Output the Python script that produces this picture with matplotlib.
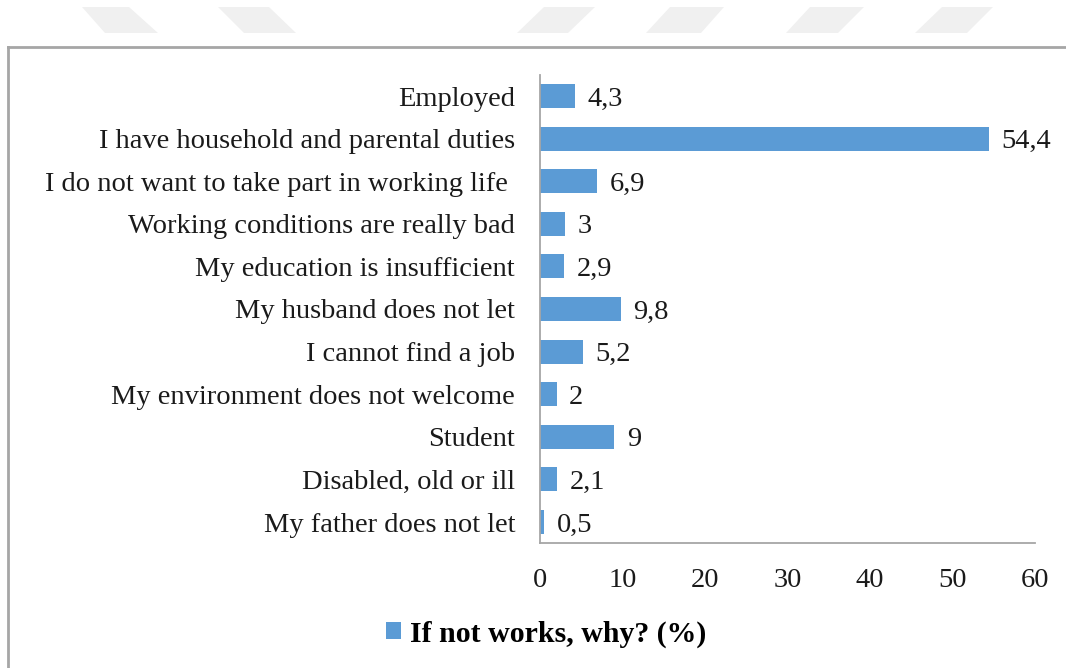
import matplotlib.pyplot as plt
from matplotlib.patches import Polygon
from matplotlib.lines import Line2D

categorias = [
    'Employed',
    'I have household and parental duties',
    'I do not want to take part in working life ',
    'Working conditions are really bad',
    'My education is insufficient',
    'My husband does not let',
    'I cannot find a job',
    'My environment does not welcome',
    'Student',
    'Disabled, old or ill',
    'My father does not let',
]
valores = [4.3, 54.4, 6.9, 3, 2.9, 9.8, 5.2, 2, 9, 2.1, 0.5]
etiquetas = ['4,3', '54,4', '6,9', '3', '2,9', '9,8', '5,2', '2', '9', '2,1', '0,5']
serie = 'If not works, why? (%)'
xticks = [0, 10, 20, 30, 40, 50, 60]

plt.rcParams['font.family'] = ['Liberation Serif', 'DejaVu Serif']

W, H = 1066, 668
fig = plt.figure(figsize=(W / 100, H / 100), dpi=100)

# Marca de agua gris de la pagina (arriba)
formas = [
    [(82, 7), (129, 7), (158, 33), (105, 33)],
    [(218, 7), (269, 7), (296, 33), (244, 33)],
    [(544, 7), (595, 7), (568, 33), (517, 33)],
    [(670, 7), (724, 7), (701, 33), (646, 33)],
    [(810, 7), (864, 7), (838, 33), (786, 33)],
    [(942, 7), (993, 7), (967, 33), (915, 33)],
]
for f in formas:
    pts = [(x / W, 1 - y / H) for x, y in f]
    fig.patches.append(Polygon(pts, closed=True, transform=fig.transFigure,
                               facecolor='#F0F0F0', edgecolor='none'))

# Borde del grafico
fig.lines.append(Line2D([8 / W, 1], [1 - 47 / H, 1 - 47 / H], transform=fig.transFigure,
                        color='#A6A6A6', lw=2))
fig.lines.append(Line2D([8 / W, 8 / W], [0, 1 - 47 / H], transform=fig.transFigure,
                        color='#A6A6A6', lw=2))

ax = fig.add_axes([540 / W, 1 - 543.3 / H, (1035 - 540) / W, (543.3 - 74.7) / H])

y = list(range(len(categorias)))
barras = ax.barh(y, valores, height=0.56, color='#5B9BD5', label=serie)
ax.set_ylim(len(categorias) - 0.5, -0.5)
ax.set_xlim(0, 60)
ax.set_yticks(y)
ax.set_yticklabels(categorias)
ax.set_xticks(xticks)
ax.tick_params(axis='y', length=0, pad=18, labelsize=20.5, labelcolor='#1a1a1a')
ax.tick_params(axis='x', length=0, pad=18, labelsize=20.5, labelcolor='#1a1a1a')

for s in ['top', 'right']:
    ax.spines[s].set_visible(False)
for s in ['left', 'bottom']:
    ax.spines[s].set_color('#A6A6A6')
    ax.spines[s].set_linewidth(1.3)

for b, t in zip(barras, etiquetas):
    ax.annotate(t, (b.get_width(), b.get_y() + b.get_height() / 2),
                xytext=(9, 0), textcoords='offset points',
                va='center_baseline', ha='left', fontsize=20.5, color='#1a1a1a')

leg = ax.legend(loc='center', bbox_to_anchor=(546 / W, 1 - 634 / H),
                bbox_transform=fig.transFigure, frameon=False,
                handlelength=0.5, handleheight=0.5, handletextpad=0.3,
                prop={'weight': 'bold', 'size': 21.5})

fig.savefig('out.png', dpi=100)
